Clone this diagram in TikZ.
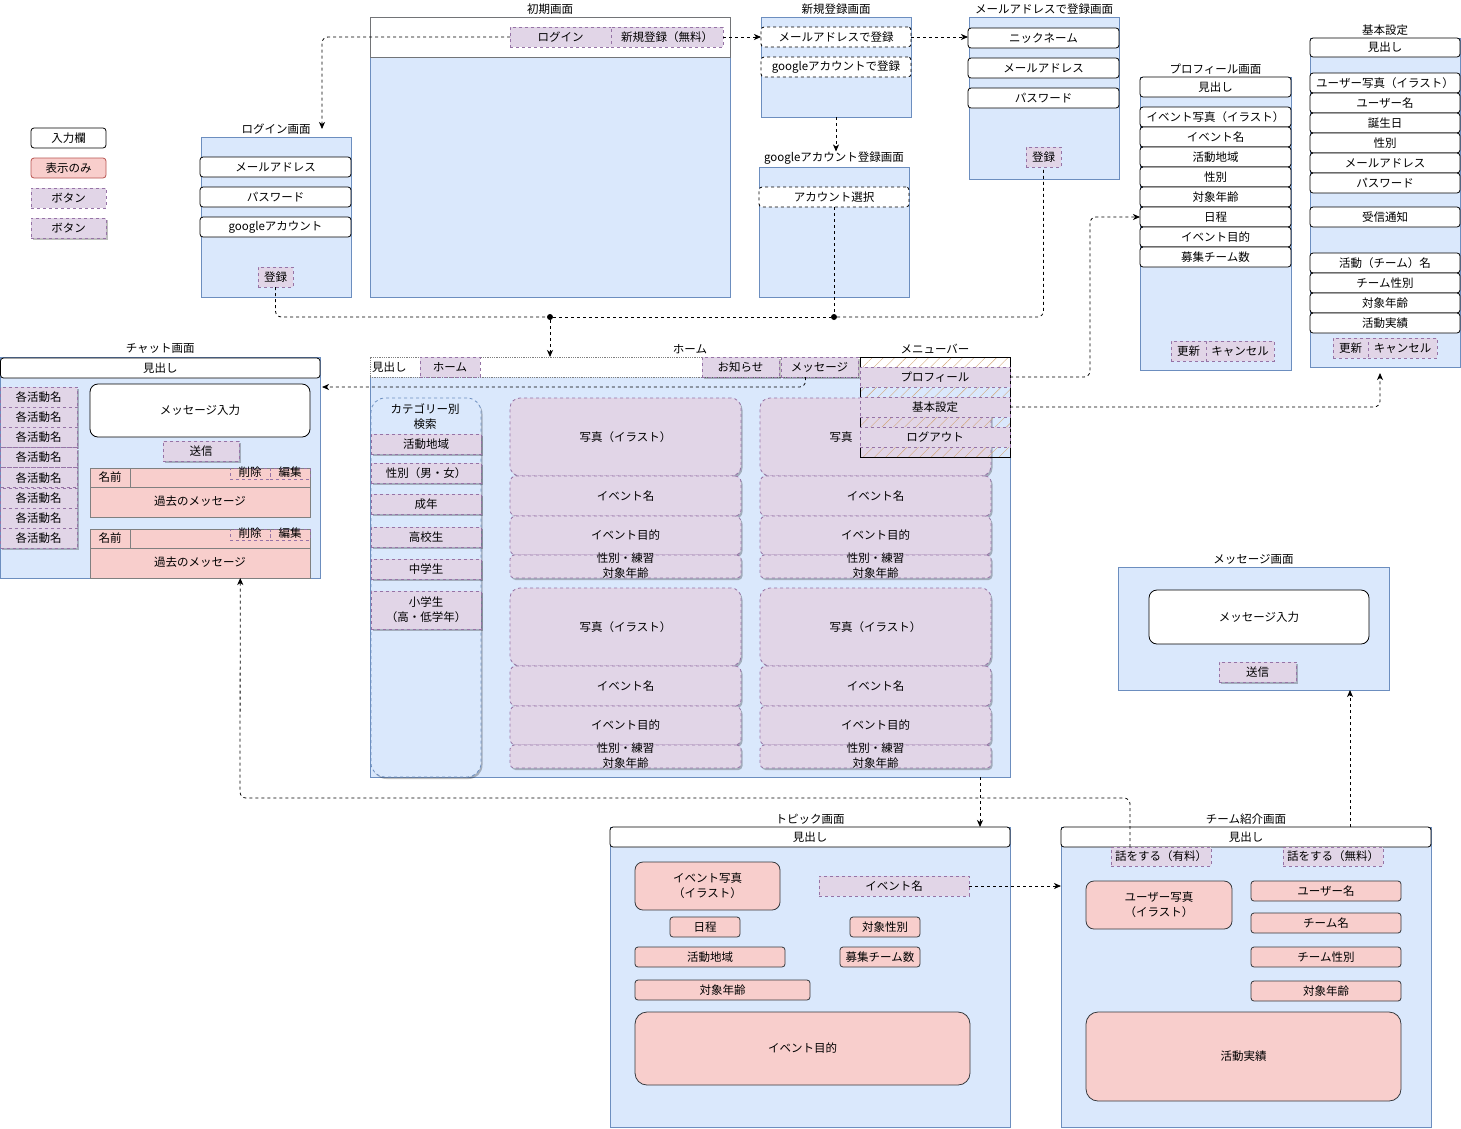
\documentclass[tikz,border=0pt]{standalone}
\usepackage{fontspec}
\setmainfont{Noto Sans CJK JP}
\usetikzlibrary{positioning,shadows,patterns.meta,arrows.meta}
\definecolor{aoFill}{HTML}{DAE8FC}
\definecolor{aoLine}{HTML}{6C8EBF}
\definecolor{akaFill}{HTML}{F8CECC}
\definecolor{akaLine}{HTML}{B85450}
\definecolor{murFill}{HTML}{E1D5E7}
\definecolor{murLine}{HTML}{9673A6}
\definecolor{haiLine}{HTML}{36393D}
\newcommand{\hako}[7]{% style, name, x1, y1, x2, y2, text (pixel corners)
	\node[#1, minimum width={((#5)-(#3))*1pt}, minimum height={((#6)-(#4))*1pt}] (#2) at ({((#3)+(#5))/2},{((#4)+(#6))/2}) {#7};
}
\newcommand{\gamen}[6]{% name, x1, y1, x2, y2, title of the screen
	\hako{gamenbox}{#1}{#2}{#3}{#4}{#5}{}
	\node[above=3pt of #1] (t-#1) {#6};
}
\begin{document}
\begin{tikzpicture}[x=1pt, y=-1pt, line width=0.8pt, >={Stealth[length=7pt, width=6pt, inset=2pt]},
	font=\fontsize{11.5}{15}\selectfont,
	every node/.style={inner sep=0pt, outer sep=0pt},
	gamenbox/.style={draw=aoLine, fill=aoFill},
	nyuryoku/.style={draw=black, fill=white, rounded corners=3pt},
	nyuryokuD/.style={nyuryoku, dashed},
	hyoji/.style={draw=haiLine, fill=akaFill, rounded corners=3pt},
	botan/.style={draw=murLine, fill=murFill, dashed},
	kage/.style={drop shadow={shadow xshift=1.5pt, shadow yshift=-2pt, fill=black, opacity=0.25}},
	botanS/.style={botan, kage},
	conn/.style={->, dashed, rounded corners=6pt},
	dot/.style={circle, fill=black, minimum size=6pt}]
	\useasboundingbox (0,0) rectangle (1461,1128);
	
	%--- legend ---
	\hako{nyuryoku}{han-in}{31}{128}{106}{148}{入力欄}
	\hako{hyoji, draw=akaLine}{han-hy}{31}{158}{106}{178}{表示のみ}
	\hako{botan}{han-bt}{31}{188}{106}{208}{ボタン}
	\hako{botanS}{han-bs}{31}{218}{106}{238}{ボタン}
	
	%--- login screen ---
	\gamen{login}{201}{137}{351}{297}{ログイン画面}
	\hako{nyuryoku}{login-mail}{200}{157}{351}{177}{メールアドレス}
	\hako{nyuryoku}{login-pw}{200}{187}{351}{207}{パスワード}
	\hako{nyuryoku}{login-g}{200}{217}{351}{237}{googleアカウント}
	\hako{botan}{login-reg}{258}{267}{293}{287}{登録}
	
	%--- first screen ---
	\gamen{ini}{370}{17}{730}{297}{初期画面}
	\hako{draw=haiLine!70, fill=white}{ini-head}{370}{17}{730}{57}{}
	\hako{botan}{ini-login}{510}{27}{611}{47}{ログイン}
	\hako{botan}{ini-reg}{611}{27}{723}{47}{新規登録（無料）}
	
	%--- sign up screens ---
	\gamen{reg}{761}{17}{911}{117}{新規登録画面}
	\hako{nyuryokuD}{reg-mail}{761}{27}{911}{47}{メールアドレスで登録}
	\hako{nyuryokuD}{reg-g}{761}{57}{911}{77}{googleアカウントで登録}
	\gamen{gsc}{759}{167}{909}{297}{googleアカウント登録画面}
	\hako{nyuryokuD}{gsc-sel}{759}{187}{909}{207}{アカウント選択}
	\gamen{mail}{969}{17}{1119}{179}{メールアドレスで登録画面}
	\foreach \t/\y [count=\i] in {ニックネーム/28, メールアドレス/58, パスワード/88}{
		\hako{nyuryoku}{mail-\i}{968}{\y}{1119}{\y+20}{\t}}
	\hako{botan}{mail-reg}{1026}{147}{1061}{167}{登録}
	
	%--- profile screen ---
	\gamen{prof}{1140}{77}{1291}{370}{プロフィール画面}
	\hako{nyuryoku}{prof-head}{1140}{77}{1291}{97}{見出し}
	\foreach \t [count=\i from 0] in {イベント写真（イラスト）, イベント名, 活動地域, 性別, 対象年齢, 日程, イベント目的, 募集チーム数}{
		\hako{nyuryoku}{prof\i}{1140}{107+20*\i}{1291}{127+20*\i}{\t}}
	\hako{botan}{prof-upd}{1171}{341}{1206}{361}{更新}
	\hako{botan}{prof-can}{1206}{341}{1274}{361}{キャンセル}
	
	%--- basic settings ---
	\gamen{kihon}{1310}{38}{1460}{367}{基本設定}
	\hako{nyuryoku}{kihon-head}{1310}{38}{1460}{57}{見出し}
	\foreach \t [count=\i from 0] in {ユーザー写真（イラスト）, ユーザー名, 誕生日, 性別, メールアドレス, パスワード}{
		\hako{nyuryoku}{kihon-a\i}{1310}{73+20*\i}{1460}{93+20*\i}{\t}}
	\hako{nyuryoku}{kihon-tsuchi}{1310}{207}{1460}{227}{受信通知}
	\foreach \t [count=\i from 0] in {活動（チーム）名, チーム性別, 対象年齢, 活動実績}{
		\hako{nyuryoku}{kihon-b\i}{1310}{253+20*\i}{1460}{273+20*\i}{\t}}
	\hako{botan}{kihon-upd}{1333}{338}{1368}{358}{更新}
	\hako{botan}{kihon-can}{1368}{338}{1437}{358}{キャンセル}
	
	%--- chat screen ---
	\gamen{chat}{0.5}{357}{320}{578}{チャット画面}
	\hako{nyuryoku}{chat-head}{0.5}{358}{320}{378}{見出し}
	\foreach \i in {0,...,7}{
		\hako{botanS}{chat-k\i}{0.5}{387+20.2*\i}{77}{407+20.2*\i}{各活動名}}
	\hako{nyuryoku, rounded corners=8pt}{chat-in}{90}{384}{310}{437}{メッセージ入力}
	\hako{botanS}{chat-send}{163}{441}{239}{461}{送信}
	\foreach \y [count=\i] in {468, 529}{
		\hako{fill=akaFill, draw=gray}{chat-m\i}{90}{\y}{310}{\y+49}{}
		\hako{fill=akaFill, draw=gray}{chat-m\i-row}{90}{\y}{310}{\y+19}{}
		\hako{fill=akaFill, draw=gray}{chat-m\i-name}{90}{\y}{130}{\y+19}{名前}
		\hako{botan, fill=none}{chat-m\i-del}{230}{\y}{270}{\y+11}{}
		\hako{botan, fill=none}{chat-m\i-edit}{270}{\y}{310}{\y+11}{}
		\node (chat-m\i-delt) at (250,\y+4) {削除};
		\node (chat-m\i-editt) at (290,\y+4) {編集};
		\node (chat-m\i-t) at (200,\y+33) {過去のメッセージ};
	}
	
	%--- home ---
	\gamen{home}{370}{357}{1010}{777}{ホーム}
	\hako{draw=gray, densely dotted, fill=white}{home-head}{370}{357}{1010}{377}{}
	\node[anchor=west] (home-midashi) at (372,367) {見出し};
	\hako{botan}{home-home}{420}{357}{480}{377}{ホーム}
	\hako{botanS}{home-news}{702}{357}{779}{377}{お知らせ}
	\hako{botanS}{home-msg}{781}{357}{858}{377}{メッセージ}
	% category search column
	\hako{gamenbox, dashed, rounded corners=14pt, kage}{home-cat}{371}{398}{481}{777}{}
	\node[align=center] (home-cat-t) at (425,417) {カテゴリー別\\検索};
	\foreach \t/\y [count=\i] in {活動地域/434, 性別（男・女）/463, 成年/494, 高校生/527, 中学生/559}{
		\hako{botanS}{home-c\i}{371}{\y}{481}{\y+20}{\t}}
	\hako{botanS, align=center}{home-c6}{371}{591}{481}{629}{小学生\\（高・低学年）}
	% event cards 2x2 (card 2 photo text is half hidden by the menu)
	\foreach \cx/\cy/\pt [count=\i] in {510/398/写真（イラスト）, 760/398/{}, 510/588/写真（イラスト）, 760/588/写真（イラスト）}{
		\hako{botanS, rounded corners=10pt}{card\i-photo}{\cx}{\cy}{\cx+231}{\cy+78}{\pt}
		\hako{botanS, rounded corners=6pt}{card\i-name}{\cx}{\cy+78}{\cx+231}{\cy+118}{イベント名}
		\hako{botanS, rounded corners=6pt}{card\i-goal}{\cx}{\cy+118}{\cx+231}{\cy+157}{イベント目的}
		\hako{botanS, rounded corners=4pt}{card\i-sub}{\cx}{\cy+157}{\cx+231}{\cy+180}{}
		\node[align=center] (card\i-subt) at (\cx+115.5,\cy+167.5) {性別・練習\\対象年齢};
	}
	\node[anchor=west] (card2-photot) at (829.5,437) {写真};
	
	%--- menu bar ---
	\hako{draw=black, pattern={Lines[angle=45, distance=8pt, line width=0.4pt]}, pattern color=brown!70}{menu}{860}{357}{1010}{457}{}
	\node[above=3pt of menu] (t-menu) {メニューバー};
	\foreach \t/\y/\n in {プロフィール/367/prof, 基本設定/397/set, ログアウト/427/out}{
		\hako{botan}{menu-\n}{860}{\y}{1010}{\y+20}{\t}}
	
	%--- message screen ---
	\gamen{msg}{1118}{567}{1389}{690}{メッセージ画面}
	\hako{nyuryoku, rounded corners=8pt}{msg-in}{1149}{590}{1369}{644}{メッセージ入力}
	\hako{botanS}{msg-send}{1219}{662}{1296}{682}{送信}
	
	%--- topic screen ---
	\gamen{topic}{610}{827}{1010}{1127}{トピック画面}
	\hako{nyuryoku}{topic-head}{610}{827}{1010}{847}{見出し}
	\hako{hyoji, rounded corners=8pt, align=center}{topic-photo}{635}{862}{780}{910}{イベント写真\\（イラスト）}
	\hako{botan}{topic-name}{819}{876}{969}{896}{イベント名}
	\hako{hyoji}{topic-date}{670}{917}{740}{937}{日程}
	\hako{hyoji}{topic-sex}{850}{917}{920}{937}{対象性別}
	\hako{hyoji}{topic-area}{635}{947}{785}{967}{活動地域}
	\hako{hyoji}{topic-num}{840}{947}{920}{967}{募集チーム数}
	\hako{hyoji}{topic-age}{635}{980}{810}{1000}{対象年齢}
	\hako{hyoji, rounded corners=12pt}{topic-goal}{635}{1012}{970}{1085}{イベント目的}
	
	%--- team screen ---
	\gamen{team}{1061}{827}{1431}{1127}{チーム紹介画面}
	\hako{nyuryoku}{team-head}{1061}{827}{1431}{847}{見出し}
	\hako{botan}{team-paid}{1111}{847}{1211}{866}{話をする（有料）}
	\hako{botan}{team-free}{1283}{847}{1383}{866}{話をする（無料）}
	\hako{hyoji, rounded corners=8pt, align=center}{team-photo}{1086}{881}{1232}{929}{ユーザー写真\\（イラスト）}
	\foreach \t/\y [count=\i] in {ユーザー名/881, チーム名/913, チーム性別/947, 対象年齢/981}{
		\hako{hyoji}{team-\i}{1251}{\y}{1401}{\y+20}{\t}}
	\hako{hyoji, rounded corners=12pt}{team-jiseki}{1086}{1012}{1401}{1101}{活動実績}
	
	%--- connectors ---
	\coordinate (login-in) at (322,129);
	\draw[conn] (ini-login.west) -| (login-in);
	\draw[conn] (ini-reg.east) -- (reg-mail.west);
	\draw[conn] (reg-mail.east) -- (reg-mail.east -| mail-1.west);
	\draw[conn] (reg.south) -- (reg.south |- t-gsc.north);
	% registration ends at home
	\node[dot] (dot-a) at (550,317) {};
	\node[dot] (dot-b) at (834,317) {};
	\draw[dashed, rounded corners=6pt] (login-reg.south) |- (dot-a.west);
	\draw[dashed] (dot-a.east) -- (dot-b.west);
	\draw[dashed, rounded corners=6pt] (dot-b.east) -| (mail-reg.south);
	\draw[dashed] (gsc-sel.south) -- (dot-b.north);
	\draw[conn] (dot-a.south) -- (dot-a.south |- home.north);
	% home -> chat, topic
	\coordinate (chat-in) at (322,387);
	\draw[conn] ([xshift=-14pt]home-msg.south) |- (chat-in);
	\draw[conn] ([xshift=-30pt]home.south east) -- ([xshift=-30pt]topic.north east);
	% menu -> profile, settings
	\draw[conn] (menu-prof.east) -| ([xshift=-50pt]prof5.west) -- (prof5.west);
	\draw[conn] (menu-set.east) -| ([xshift=-5pt,yshift=-6pt]kihon.south);
	% topic -> team -> chat, message
	\draw[conn] (topic-name.east) -- (topic-name.east -| team.west);
	\coordinate (chat-back) at (240,798);
	\draw[conn] ([xshift=-31pt]team-paid.north) |- (chat-back) -- ([xshift=80pt]chat.south);
	\draw[conn] ([xshift=104pt]team.north) -- ([xshift=104pt]team.north |- msg.south);
\end{tikzpicture}
\end{document}
